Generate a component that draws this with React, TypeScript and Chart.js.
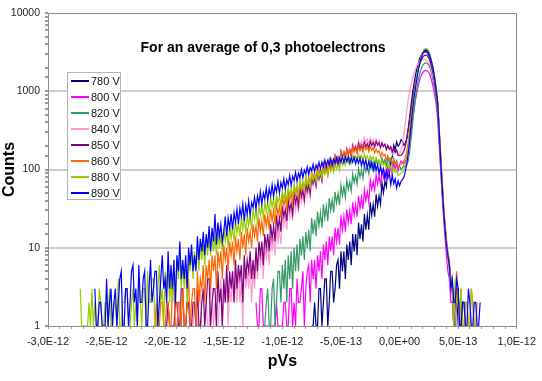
import React, { useEffect, useRef } from 'react';
import { Chart, registerables } from 'chart.js';

Chart.register(...registerables);

// ---------- data (x in units of 1E-12 pVs, histogram bins of 0.0125E-12) ----------
const BIN_START = -2.75;
const BIN_WIDTH = 0.0125;

const seriesLabels = ['780 V', '800 V', '820 V', '840 V', '850 V', '860 V', '880 V', '890 V'];
const seriesColors = ['#000080', '#ff00ff', '#339966', '#ff99cc', '#800080', '#ff6600', '#99cc00', '#0000ff'];
// index of the first bin of every series
const seriesStartBins = [160, 122, 128, 68, 60, 52, 2, 12];

const counts780 = [
  1, 1, 2, 1, 1, 3, 3, 1, 2, 4, 4, 1, 2, 5, 5, 2, 3, 6, 7, 3,
  9, 5, 9, 4, 11, 7, 12, 6, 15, 9, 15, 8, 21, 13, 20, 12, 27, 17, 26, 17,
  38, 26, 36, 25, 48, 34, 46, 36, 68, 50, 70, 60, 112, 92, 125, 145, 205, 180, 225, 198,
  210, 240, 232, 205, 218, 250, 340, 480, 700, 980, 1300, 1650, 2000, 2350, 2700, 2950, 3100, 3180, 3200, 3100,
  2900, 2600, 2200, 1800, 1400, 1050, 700, 330, 140, 68, 32, 18, 11, 7, 6, 4, 3, 1, 2, 3,
  1, 2, 2, 1, 1,
];
const counts800 = [
  2, 1, 1, 3, 3, 1, 1, 1, 1, 1, 1, 1, 1, 1, 2, 1, 1, 1,
  1, 2, 2, 1, 1, 3, 3, 1, 2, 1, 4, 2, 2, 3, 5, 1, 3, 5, 6, 2,
  7, 4, 7, 3, 8, 5, 9, 4, 11, 7, 12, 6, 14, 9, 14, 8, 18, 12, 18, 11,
  26, 17, 25, 16, 31, 21, 30, 20, 38, 26, 36, 25, 46, 32, 44, 31, 55, 40, 52, 38,
  74, 56, 70, 54, 86, 66, 82, 64, 98, 78, 94, 76, 112, 90, 106, 86, 124, 102, 116, 96,
  116, 128, 122, 118, 128, 140, 175, 240, 320, 460, 620, 800, 1000, 1230, 1450, 1620, 1750, 1830, 1850, 1820,
  1750, 1580, 1350, 1120, 900, 680, 440, 210, 100, 48, 25, 14, 8, 5, 4, 2, 2, 3, 1, 2,
  2,
];
const counts820 = [
  1, 2, 3, 1, 1, 3, 4, 1, 2, 5, 5, 2,
  6, 3, 7, 2, 8, 4, 9, 3, 10, 5, 11, 5, 13, 8, 14, 7, 16, 10, 17, 9,
  24, 15, 23, 14, 29, 19, 28, 18, 36, 24, 34, 22, 43, 30, 41, 28, 52, 37, 50, 35,
  63, 46, 60, 44, 74, 56, 70, 53, 88, 68, 84, 65, 102, 80, 98, 77, 116, 94, 110, 88,
  128, 106, 122, 100, 136, 116, 128, 108, 142, 120, 134, 112, 144, 122, 136, 112, 138, 118, 130, 108,
  112, 100, 106, 112, 108, 115, 130, 175, 260, 400, 600, 860, 1150, 1450, 1750, 1980, 2150, 2270, 2300, 2260,
  2150, 1950, 1650, 1350, 1050, 780, 520, 250, 120, 58, 30, 17, 11, 7, 5, 3, 3, 1, 1, 2,
  2, 1, 1, 2, 2,
];
const counts840 = [
  1, 1, 2, 1, 1, 1, 1, 2, 2, 1, 1, 1,
  2, 1, 1, 2, 3, 1, 1, 1, 2, 1, 1, 3, 3, 1, 2, 1, 1, 2, 4, 1,
  3, 2, 4, 1, 3, 2, 5, 2, 4, 2, 6, 2, 4, 1, 7, 3, 5, 3, 6, 2,
  5, 3, 8, 4, 9, 6, 9, 4, 11, 7, 11, 6, 14, 9, 14, 8, 18, 12, 17, 11,
  28, 19, 26, 17, 34, 24, 31, 22, 42, 30, 39, 28, 52, 38, 48, 36, 62, 46, 58, 44,
  80, 62, 76, 60, 92, 72, 88, 70, 110, 88, 104, 84, 130, 104, 124, 100, 150, 124, 146, 120,
  176, 148, 170, 146, 194, 164, 188, 160, 214, 182, 206, 176, 236, 200, 228, 194, 256, 218, 244, 208,
  252, 222, 244, 208, 246, 220, 236, 198, 224, 200, 212, 178, 200, 180, 188, 158, 180, 162, 170, 150,
  158, 178, 210, 290, 400, 580, 800, 1020, 1250, 1500, 1750, 1960, 2150, 2320, 2450, 2520, 2550, 2560, 2500, 2420,
  2300, 2100, 1800, 1500, 1200, 920, 660, 380, 180, 90, 40, 22, 12, 7, 5, 3, 3, 1, 2, 1,
  1, 2, 2,
];
const counts850 = [
  1, 1, 2, 1, 1, 1, 1, 2, 2, 1, 1, 3, 3, 1, 1, 2, 2, 1, 1, 2,
  2, 1, 3, 1, 1, 2, 3, 1, 2, 4, 4, 1, 2, 3, 3, 1, 5, 2, 3, 1,
  4, 2, 6, 2, 5, 3, 5, 2, 7, 3, 6, 4, 6, 2, 8, 4, 7, 5, 9, 4,
  7, 4, 10, 5, 12, 8, 12, 6, 15, 10, 15, 9, 20, 13, 19, 12, 26, 17, 24, 16,
  34, 25, 31, 22, 40, 30, 37, 27, 49, 37, 46, 34, 59, 45, 55, 41, 69, 53, 64, 49,
  82, 66, 78, 62, 94, 76, 90, 72, 112, 92, 106, 86, 128, 106, 122, 100, 148, 124, 142, 118,
  168, 144, 164, 140, 182, 156, 176, 150, 200, 172, 194, 166, 214, 186, 206, 178, 222, 194, 214, 186,
  228, 202, 222, 194, 228, 204, 220, 190, 218, 196, 210, 180, 204, 182, 196, 168, 186, 166, 178, 152,
  150, 152, 158, 175, 200, 255, 330, 450, 600, 820, 1050, 1350, 1650, 2000, 2300, 2550, 2750, 2880, 2900, 2850,
  2650, 2350, 2000, 1650, 1250, 930, 640, 320, 145, 70, 33, 19, 12, 8, 6, 4, 3, 1, 2, 3,
  3, 1, 1, 2, 2, 1, 1,
];
const counts860 = [
  1, 1, 2, 1, 1, 2, 2, 1,
  1, 2, 2, 1, 1, 3, 3, 1, 1, 2, 2, 1, 3, 1, 1, 2, 4, 1, 2, 3,
  3, 1, 5, 2, 4, 3, 6, 2, 6, 4, 7, 3, 8, 5, 8, 3, 9, 6, 9, 4,
  11, 7, 10, 5, 12, 8, 12, 6, 14, 9, 13, 7, 16, 10, 15, 8, 18, 12, 16, 10,
  20, 14, 19, 12, 24, 16, 22, 14, 27, 19, 26, 17, 31, 22, 30, 20, 36, 26, 34, 24,
  46, 34, 44, 32, 53, 40, 50, 37, 61, 47, 58, 44, 71, 54, 68, 52, 83, 64, 80, 62,
  95, 76, 92, 74, 108, 88, 104, 84, 121, 100, 118, 96, 134, 112, 130, 106, 146, 124, 142, 118,
  170, 146, 166, 142, 180, 156, 176, 152, 192, 166, 186, 160, 198, 172, 194, 166, 204, 178, 196, 168,
  196, 176, 190, 162, 182, 164, 174, 146, 166, 150, 156, 132, 150, 136, 140, 118, 132, 120, 124, 108,
  114, 116, 120, 128, 145, 175, 230, 340, 480, 700, 950, 1280, 1650, 2050, 2450, 2850, 3150, 3400, 3450, 3350,
  3100, 2750, 2350, 1900, 1450, 1050, 720, 340, 155, 72, 36, 20, 13, 9, 7, 4, 4, 2, 3, 5,
  2, 1, 3, 1, 1, 2, 2, 1, 1, 3, 2, 1, 1, 2,
];
const counts880 = [
  3, 1, 1, 1, 1, 1, 2, 1, 3, 1, 2, 1, 1, 3, 2, 1, 1, 2, 2, 1,
  3, 1, 1, 2, 2, 1, 4, 1, 1, 2, 2, 3, 3, 1, 1, 2, 3, 1,
  2, 1, 4, 2, 1, 3, 3, 1, 5, 2, 2, 4, 4, 1, 1, 3, 6, 2, 3, 1,
  5, 3, 6, 2, 4, 2, 5, 2, 7, 4, 8, 3, 6, 3, 6, 2, 8, 5, 9, 4,
  9, 6, 10, 5, 11, 7, 12, 6, 13, 8, 18, 8, 14, 9, 14, 8, 16, 10, 15, 9,
  18, 12, 17, 10, 20, 13, 19, 12, 22, 15, 21, 14, 25, 17, 24, 15, 27, 19, 26, 17,
  31, 23, 30, 21, 35, 26, 34, 24, 39, 29, 38, 27, 44, 33, 42, 30, 48, 37, 46, 34,
  54, 42, 52, 40, 59, 47, 57, 44, 65, 52, 63, 50, 71, 57, 69, 54, 78, 63, 75, 60,
  88, 72, 86, 70, 96, 80, 94, 78, 104, 86, 102, 84, 112, 94, 110, 92, 120, 101, 118, 98,
  136, 114, 134, 114, 144, 122, 142, 120, 154, 132, 150, 128, 156, 136, 152, 130, 156, 138, 150, 128,
  150, 132, 146, 122, 140, 124, 134, 112, 128, 114, 122, 100, 116, 102, 110, 90, 104, 92, 98, 84,
  86, 90, 92, 100, 115, 140, 190, 290, 430, 640, 900, 1200, 1600, 2050, 2450, 2900, 3200, 3450, 3550, 3450,
  3200, 2850, 2400, 1950, 1500, 1100, 720, 340, 150, 70, 34, 19, 12, 8, 6, 4, 3, 1, 4, 2,
  2, 1, 3, 1, 1, 2, 2, 1, 1, 3, 2, 1, 1,
];
const counts890 = [
  3, 1, 1, 2, 2, 1, 1, 1, 4, 1, 2, 3, 1, 2, 3, 1, 2, 4, 5, 1, 1, 3, 3, 1, 2, 5, 6, 2,
  3, 1, 6, 2, 2, 4, 5, 1, 1, 3, 7, 2, 3, 5, 5, 1, 2, 4, 8, 3,
  4, 2, 9, 3, 6, 3, 7, 2, 8, 5, 12, 4, 7, 4, 8, 3, 10, 6, 11, 5,
  8, 5, 14, 7, 13, 9, 16, 8, 15, 10, 19, 9, 18, 12, 27, 11, 21, 14, 20, 12,
  16, 25, 14, 24, 18, 27, 17, 28, 21, 31, 20, 32, 25, 36, 22, 35, 27, 40, 26, 38,
  33, 44, 31, 46, 37, 52, 36, 50, 42, 58, 40, 57, 46, 64, 45, 62, 52, 70, 50, 68,
  58, 76, 56, 74, 64, 84, 62, 82, 72, 92, 70, 90, 78, 100, 78, 98, 88, 108, 86, 106,
  96, 116, 94, 114, 102, 124, 102, 124, 108, 132, 108, 130, 114, 138, 114, 136, 120, 142, 118, 140,
  124, 146, 122, 144, 126, 146, 120, 142, 124, 144, 118, 140, 120, 140, 112, 134, 112, 132, 104, 126,
  106, 124, 98, 120, 98, 114, 88, 108, 88, 102, 76, 96, 78, 90, 64, 84, 66, 76, 58, 72,
  62, 70, 74, 80, 95, 120, 165, 250, 400, 600, 850, 1150, 1500, 1950, 2350, 2750, 3050, 3300, 3350, 3300,
  3050, 2700, 2300, 1900, 1450, 1050, 720, 330, 140, 65, 32, 18, 11, 8, 6, 3, 4, 2, 2, 4,
  3, 1, 1, 2, 2, 1, 1, 3, 2, 1, 1, 2, 2, 1, 1, 2,
];
const seriesCounts = [counts780, counts800, counts820, counts840, counts850, counts860, counts880, counts890];

const X_MIN = -3;
const X_MAX = 1;
const X_STEP = 0.1;
const Y_MIN = 1;
const Y_MAX = 10000;
const CHART_TITLE = 'For an average of 0,3 photoelectrons';
const X_TITLE = 'pVs';
const Y_TITLE = 'Counts';

const FONT = '"Liberation Sans", Arial, Helvetica, sans-serif';

function isPow10(v: number) {
  if (!(v > 0)) return false;
  const l = Math.log10(v);
  return Math.abs(l - Math.round(l)) < 1e-9;
}

function fmtX(v: number) {
  if (Math.abs(v) < 1e-9) return '0,0E+00';
  const e = Math.floor(Math.log10(Math.abs(v)) + 1e-9);
  const mant = v / Math.pow(10, e);
  const exp = e - 12;
  const expStr = (exp < 0 ? '-' : '+') + String(Math.abs(exp)).padStart(2, '0');
  return mant.toFixed(1).replace('.', ',') + 'E' + expStr;
}

const frameAndTitle = {
  id: 'frameAndTitle',
  afterDatasetsDraw(chart: any) {
    const { ctx, chartArea: a } = chart;
    ctx.save();
    ctx.strokeStyle = '#8c8c8c';
    ctx.lineWidth = 1;
    ctx.beginPath();
    const t = Math.round(a.top) + 0.5;
    const r = Math.round(a.right) - 0.5;
    ctx.moveTo(a.left, t);
    ctx.lineTo(r, t);
    ctx.lineTo(r, a.bottom);
    ctx.stroke();
    ctx.font = 'bold 14px ' + FONT;
    ctx.fillStyle = '#000';
    ctx.textAlign = 'center';
    ctx.textBaseline = 'middle';
    ctx.fillText(CHART_TITLE, a.left + (a.right - a.left) * 0.4588, a.top + 35);
    ctx.restore();
  },
};

export default function App() {
  const canvasRef = useRef<HTMLCanvasElement | null>(null);

  useEffect(() => {
    document.body.style.margin = '0';
    const datasets = seriesLabels.map((label, s) => ({
      label,
      data: seriesCounts[s].map((c, k) => ({
        x: BIN_START + (seriesStartBins[s] + k) * BIN_WIDTH,
        y: c,
      })),
      borderColor: seriesColors[s],
      backgroundColor: seriesColors[s],
      borderWidth: 1.2,
      pointRadius: 0,
      tension: 0,
      fill: false,
      order: seriesLabels.length - 1 - s,
    }));

    const chart = new Chart(canvasRef.current as HTMLCanvasElement, {
      type: 'line',
      data: { datasets },
      plugins: [frameAndTitle],
      options: {
        animation: false,
        responsive: true,
        maintainAspectRatio: false,
        devicePixelRatio: 1,
        layout: { padding: { left: 0, right: 20, top: 13, bottom: 0 } },
        plugins: {
          legend: { display: false },
          tooltip: { enabled: false },
          title: { display: false },
        },
        scales: {
          x: {
            type: 'linear',
            min: X_MIN,
            max: X_MAX,
            afterFit: (s: any) => {
              s.height = 55;
            },
            ticks: {
              stepSize: X_STEP,
              autoSkip: false,
              maxRotation: 0,
              minRotation: 0,
              padding: 6,
              color: '#222',
              font: { family: FONT, size: 11 },
              callback: (v: any) => {
                const n = Number(v);
                return Math.abs(n * 2 - Math.round(n * 2)) < 1e-6 ? fmtX(n) : '';
              },
            },
            grid: {
              color: 'transparent',
              tickColor: '#999',
              tickLength: 3,
            },
            border: { color: '#8c8c8c', width: 1 },
            title: {
              display: true,
              text: X_TITLE,
              color: '#000',
              font: { family: FONT, size: 16, weight: 'bold' },
              padding: { top: 0, bottom: 10 },
            },
          },
          y: {
            type: 'logarithmic',
            min: Y_MIN,
            max: Y_MAX,
            afterFit: (s: any) => {
              s.width = 48;
            },
            ticks: {
              autoSkip: false,
              padding: 5,
              color: '#222',
              font: { family: FONT, size: 10.5 },
              callback: (v: any) => (isPow10(Number(v)) ? String(Math.round(Number(v))) : ''),
            },
            grid: {
              color: (c: any) => {
                const v = c.tick ? c.tick.value : NaN;
                return isPow10(v) && v > Y_MIN && v < Y_MAX ? '#cccccc' : 'transparent';
              },
              lineWidth: 2,
              tickColor: '#9a9a9a',
              tickLength: 3,
            },
            border: { color: '#8c8c8c', width: 1 },
            title: {
              display: true,
              text: Y_TITLE,
              color: '#000',
              font: { family: FONT, size: 16, weight: 'bold' },
              padding: { top: 0, bottom: 0 },
            },
          },
        },
      } as any,
    });
    return () => chart.destroy();
  }, []);

  return (
    <div style={{ position: 'absolute', left: 0, top: 0, width: 542, height: 381, background: '#fff' }}>
      <canvas ref={canvasRef} />
      <div
        style={{
          position: 'absolute',
          left: 67,
          top: 72,
          width: 54,
          height: 128,
          boxSizing: 'border-box',
          border: '1px solid #b4b4b4',
          background: '#fff',
          font: '11px ' + FONT,
          color: '#111',
        }}
      >
        {seriesLabels.map((l, i) => (
          <div
            key={l}
            style={{ position: 'absolute', left: 0, top: 16 * i, height: 16, display: 'flex', alignItems: 'center', whiteSpace: 'nowrap' }}
          >
            <span style={{ display: 'inline-block', width: 18, height: 2, background: seriesColors[i], marginLeft: 3 }} />
            <span style={{ marginLeft: 2 }}>{l}</span>
          </div>
        ))}
      </div>
    </div>
  );
}
